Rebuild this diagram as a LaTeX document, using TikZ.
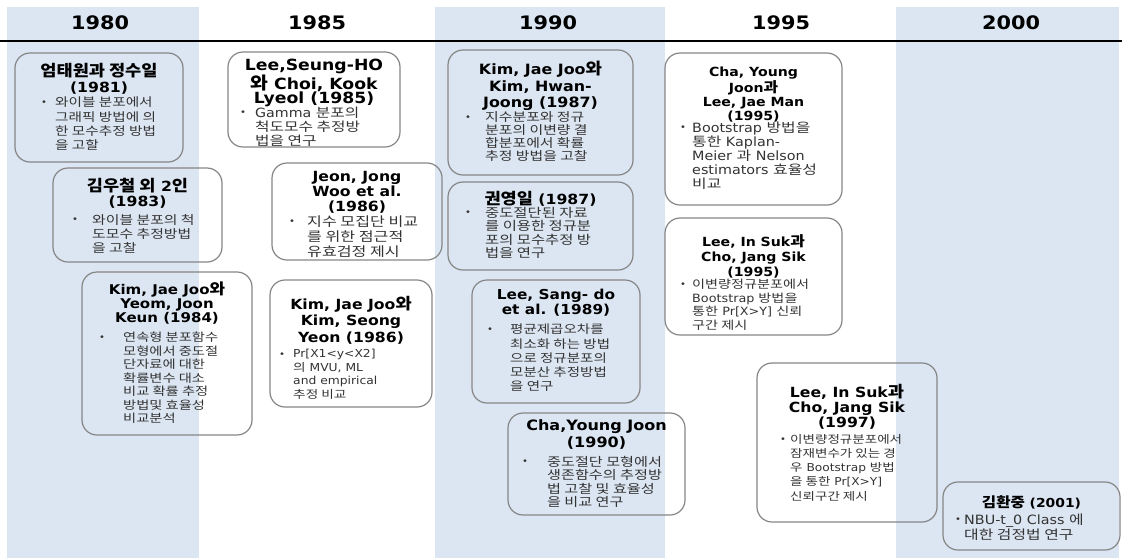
\documentclass[tikz,border=0pt]{standalone}
\usepackage{fontspec}
\setmainfont{DejaVu Sans}[FakeStretch=1.12]
\newfontfamily\krb{Noto Sans CJK KR}[Scale=1.0,FakeStretch=1.24]
\newfontfamily\krt{Noto Sans CJK KR}[Scale=1.12,FakeStretch=1.12]
\newcommand\ko[1]{{\krb #1}}
\newcommand\kt[1]{{\krt #1}}
\definecolor{colblue}{HTML}{DCE6F2}
\definecolor{cardgray}{HTML}{858585}
\definecolor{bodygray}{HTML}{333333}
\newcommand\mkcard[5]{\node[card, minimum width={(#4-#2)*1pt}, minimum height={(#5-#3)*1pt}] (#1) at ({(#2+#4)/2},{(#3+#5)/2}) {};}
\tikzset{
  card/.style={draw=cardgray, line width=1.2pt, rounded corners=15pt, inner sep=0pt, outer sep=0pt},
  ttl/.style 2 args={anchor=north, align=center, inner sep=0pt, text=black, font=\fontsize{#1}{#2}\selectfont\bfseries},
  bdy/.style 2 args={anchor=north west, align=left, inner sep=0pt, text=bodygray, font=\fontsize{#1}{#2}\selectfont},
  bul/.style={inner sep=0pt, text=bodygray, font=\fontsize{9}{10}\selectfont},
  yr/.style={inner sep=0pt, font=\fontsize{18.6}{20}\selectfont\bfseries}
}
\begin{document}
\begin{tikzpicture}[x=1pt,y=-1pt]
\useasboundingbox (0,0) rectangle (1122,558);
% columns
\fill[colblue] (7,7) rectangle (199,558);
\fill[colblue] (435,7) rectangle (665,558);
\fill[colblue] (896,7) rectangle (1119,558);
% header
\node[yr] (y1) at (100,23) {1980};
\node[yr] (y2) at (317,23) {1985};
\node[yr] (y3) at (548,23) {1990};
\node[yr] (y4) at (781,23) {1995};
\node[yr] (y5) at (1011,23) {2000};
\coordinate (hl) at (0,41);
\coordinate (hr) at (1122,41);
\draw[line width=2pt] (hl) -- (hr);

% ---- box 1
\mkcard{b1}{15}{53}{183}{162}
\node[ttl={14}{16}] (t1) at (99,63) {\kt{엄태원과 정수일}\\(1981)};
\node[bul] (u1) at (44,103) {•};
\node[bdy={11.8}{14.3}] (d1) at (55,97) {\ko{와이블 분포에서}\\\ko{그래픽 방법에 의}\\\ko{한 모수추정 방법}\\\ko{을  고할}};

% ---- box 2
\mkcard{b2}{53}{168}{222}{262}
\node[ttl={14}{15}] (t2) at (137.5,178) {\kt{김우철 외} 2\kt{인}\\(1983)};
\node[bul] (u2) at (75,220) {•};
\node[bdy={12}{14}] (d2) at (92,214) {\ko{와이블 분포의 척}\\\ko{도모수 추정방법}\\\ko{을 고찰}};

% ---- box 3
\mkcard{b3}{82}{272}{252}{435}
\node[ttl={13.4}{13.6}] (t3) at (167,282) {Kim, Jae Joo\kt{와}\\Yeom, Joon\\Keun (1984)};
\node[bul] (u3) at (102,338) {•};
\node[bdy={11.5}{13.5}] (d3) at (123,332) {\ko{연속형 분포함수}\\\ko{모형에서 중도절}\\\ko{단자료에 대한}\\\ko{확률변수 대소}\\\ko{비교 확률 추정}\\\ko{방법및 효율성}\\\ko{비교분석}};

% ---- box 4
\mkcard{b4}{228}{52}{400}{147}
\node[ttl={15.4}{14}] (t4) at (314,59) {Lee,Seung-HO\\\kt{와} Choi, Kook\\Lyeol (1985)};
\node[bul] (u4) at (243,113) {•};
\node[bdy={12.7}{14}] (d4) at (255,107) {Gamma \ko{분포의}\\\ko{척도모수 추정방}\\\ko{법을 연구}};

% ---- box 5
\mkcard{b5}{272}{163}{442}{260}
\node[ttl={14}{15}] (t5) at (357,171) {Jeon, Jong\\Woo et al.\\(1986)};
\node[bul] (u5) at (292,222) {•};
\node[bdy={13}{15}] (d5) at (307,216) {\ko{지수 모집단 비교}\\\ko{를 위한 점근적}\\\ko{유효검정 제시}};

% ---- box 6
\mkcard{b6}{270}{280}{432}{407}
\node[ttl={14}{16.5}] (t6) at (351,296) {Kim, Jae Joo\kt{와}\\Kim, Seong\\Yeon (1986)};
\node[bul] (u6) at (282,355) {•};
\node[bdy={11}{13.5}] (d6) at (293,349) {Pr[X1<y<X2]\\\ko{의} MVU, ML\\and empirical\\\ko{추정 비교}};

% ---- box 7
\mkcard{b7}{448}{50}{633}{175}
\node[ttl={14.2}{16.5}] (t7) at (540.5,61) {Kim, Jae Joo\kt{와}\\Kim, Hwan-\\Joong (1987)};
\node[bul] (u7) at (468,118) {•};
\node[bdy={12}{13}] (d7) at (485,111.5) {\ko{지수분포와 정규}\\\ko{분포의 이변량 결}\\\ko{합분포에서 확률}\\\ko{추정 방법을 고찰}};

% ---- box 8
\mkcard{b8}{448}{182}{633}{270}
\node[ttl={14}{15}] (t8) at (540.5,191) {\kt{권영일} (1987)};
\node[bul] (u8) at (468,213) {•};
\node[bdy={12.4}{13.4}] (d8) at (485,207) {\ko{중도절단된 자료}\\\ko{를 이용한 정규분}\\\ko{포의 모수추정 방}\\\ko{법을 연구}};

% ---- box 9
\mkcard{b9}{472}{280}{640}{403}
\node[ttl={13.7}{15}] (t9) at (556,289) {Lee, Sang- do\\et al. (1989)};
\node[bul] (u9) at (490,330) {•};
\node[bdy={11.7}{14.2}] (d9) at (510,324) {\ko{평균제곱오차를}\\\ko{최소화 하는 방법}\\\ko{으로 정규분포의}\\\ko{모분산 추정방법}\\\ko{을 연구}};

% ---- box 10
\mkcard{b10}{508}{413}{685}{515}
\node[ttl={14.3}{17}] (t10) at (596.5,419) {Cha,Young Joon\\(1990)};
\node[bul] (u10) at (525,462) {•};
\node[bdy={12.2}{13.4}] (d10) at (547,456) {\ko{중도절단 모형에서}\\\ko{생존함수의 추정방}\\\ko{법 고찰 및 효율성}\\\ko{을 비교 연구}};

% ---- box 11
\mkcard{b11}{665}{53}{842}{205}
\node[ttl={12.6}{14}] (t11) at (753.5,67) {Cha, Young\\Joon\kt{과}\\Lee, Jae Man\\(1995)};
\node[bul] (u11) at (683,128) {•};
\node[bdy={12.8}{13.9}] (d11) at (692,122) {Bootstrap \ko{방법을}\\\ko{통한} Kaplan-\\Meier \ko{과} Nelson\\estimators \ko{효율성}\\\ko{비교}};

% ---- box 12
\mkcard{b12}{665}{218}{842}{335}
\node[ttl={12.6}{15}] (t12) at (753.5,234) {Lee, In Suk\kt{과}\\Cho, Jang Sik\\(1995)};
\node[bul] (u12) at (683,285) {•};
\node[bdy={11.4}{13.5}] (d12) at (692,279) {\ko{이변량정규분포에서}\\Bootstrap \ko{방법을}\\\ko{통한} Pr[X>Y] \ko{신뢰}\\\ko{구간 제시}};

% ---- box 13
\mkcard{b13}{757}{363}{937}{522}
\node[ttl={14}{15}] (t13) at (847,384) {Lee, In Suk\kt{과}\\Cho, Jang Sik\\(1997)};
\node[bul] (u13) at (783,440) {•};
\node[bdy={10.9}{14.2}] (d13) at (790,434) {\ko{이변량정규분포에서}\\\ko{잠재변수가 있는 경}\\\ko{우} Bootstrap \ko{방법}\\\ko{을 통한} Pr[X>Y]\\\ko{신뢰구간 제시}};

% ---- box 14
\mkcard{b14}{943}{482}{1120}{550}
\node[ttl={12.4}{15}] (t14) at (1031.5,496) {\kt{김환중} (2001)};
\node[bul] (u14) at (958,520) {•};
\node[bdy={12.8}{15}] (d14) at (964,514) {NBU-t\_0 Class \ko{에}\\\ko{대한 검정법 연구}};
\end{tikzpicture}
\end{document}
